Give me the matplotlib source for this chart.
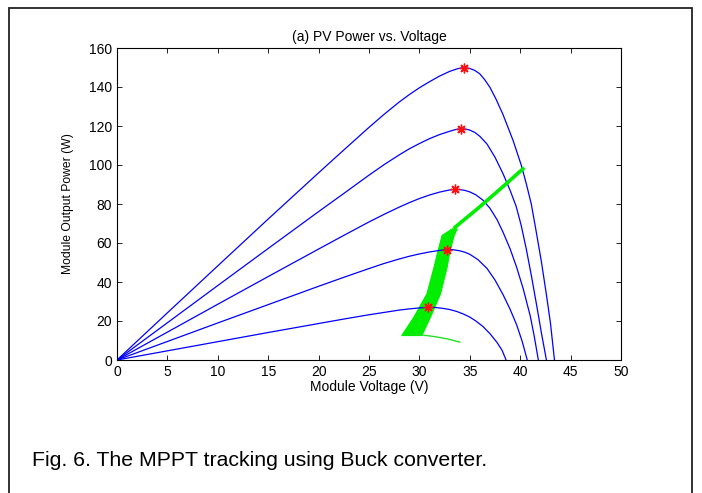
import matplotlib
matplotlib.use("Agg")
import matplotlib.pyplot as plt
from matplotlib.patches import Rectangle

# PV power curves (voltage V, power W)
c1_v = [0, 5, 10, 15, 20, 22.5, 25, 26.5, 28, 29, 30, 31, 32, 33, 33.8, 34.4,
        35.0, 35.5, 36.0, 36.5, 37.0, 37.6, 38.3, 39.3, 40.1, 40.6, 41.1, 41.6, 42.1, 42.6, 43.0, 43.4]
c1_p = [0, 24.2, 48.3, 72.3, 96.0, 107.7, 119.3, 126.0, 132.3, 136.1, 139.6, 142.7, 145.6, 148.0, 149.4, 150.0,
        149.5, 148.5, 146.7, 143.6, 139.8, 133.8, 125.8, 112.5, 100.0, 90.5, 80.0, 65.5, 50.5, 33.5, 19.0, 0]

c2_v = [0, 5, 10, 15, 20, 22.5, 25, 26.5, 28, 29, 30, 31, 32, 33, 33.6, 34.1,
        34.6, 35.0, 35.5, 36.0, 36.7, 37.5, 38.3, 39.0, 39.6, 40.1, 40.6, 41.1, 41.6, 42.1, 42.6]
c2_p = [0, 19.1, 38.2, 57.2, 76.1, 85.4, 94.8, 100.2, 105.2, 108.3, 111.0, 113.5, 115.6, 117.3, 118.2, 118.6,
        118.4, 117.9, 116.7, 114.7, 110.8, 104.0, 95.5, 87.0, 78.8, 69.0, 57.0, 43.5, 29.0, 14.0, 0]

c3_v = [0, 5, 10, 15, 20, 22.5, 25, 26.5, 28, 29, 30, 31, 32, 33, 33.5,
        34.0, 34.5, 35.0, 35.6, 36.3, 37.0, 37.7, 38.3, 39.0, 39.65, 40.3, 41.0, 41.4, 41.8]
c3_p = [0, 14.3, 28.6, 42.8, 56.9, 63.9, 70.8, 74.7, 78.4, 80.7, 82.8, 84.6, 86.1, 87.2, 87.5,
        87.4, 87.0, 86.2, 84.7, 82.0, 77.8, 72.0, 65.5, 57.0, 47.5, 36.5, 22.5, 12.0, 0]

c4_v = [0, 5, 10, 15, 20, 22.5, 25, 26.5, 28, 29, 30, 31, 32, 32.7,
        33.3, 34.0, 34.5, 35.0, 35.8, 36.7, 37.5, 38.3, 39.0, 39.65, 40.2, 40.7]
c4_p = [0, 9.5, 19.0, 28.4, 37.8, 42.4, 46.9, 49.5, 51.8, 53.2, 54.4, 55.4, 56.2, 56.6,
        56.6, 56.0, 55.3, 54.2, 51.5, 47.0, 41.0, 33.5, 26.0, 18.0, 9.5, 0]

c5_v = [0, 5, 10, 15, 20, 22.5, 25, 26.5, 28, 29, 30, 30.9,
        31.6, 32.3, 33.0, 33.7, 34.4, 35.0, 35.6, 36.3, 37.0, 37.7, 38.2, 38.6]
c5_p = [0, 4.7, 9.4, 14.1, 18.7, 21.0, 23.2, 24.4, 25.6, 26.2, 26.7, 27.0,
        26.9, 26.5, 25.9, 24.9, 23.5, 22.0, 20.0, 17.2, 13.5, 9.0, 5.0, 0]

curves = [(c1_v, c1_p), (c2_v, c2_p), (c3_v, c3_p), (c4_v, c4_p), (c5_v, c5_p)]

# maximum power points (red stars)
mpp_v = [34.4, 34.1, 33.5, 32.7, 30.9]
mpp_p = [150.0, 118.6, 87.5, 56.6, 27.0]

# MPPT trajectory: oscillation band, tracking line and the low tail
band_p = [12.8, 22.2, 34.2, 47.8, 56.3, 64.1, 67.5]
band_left = [28.2, 29.4, 30.7, 31.4, 31.8, 32.2, 33.2]
band_right = [30.2, 31.05, 32.05, 32.7, 33.0, 33.4, 33.7]

track_v = [33.4, 36.0, 38.2, 40.4]
track_p = [67.5, 78.6, 88.5, 98.6]

tail_v = [29.0, 30.2, 31.5, 32.8, 34.0]
tail_p = [13.4, 12.9, 12.0, 10.8, 9.2]

fig = plt.figure(figsize=(7.02, 4.93), dpi=100)
ax = fig.add_axes([117 / 702, 1 - 360 / 493, 504 / 702, 312 / 493])

for v, p in curves:
    ax.plot(v, p, color="#0000ff", lw=0.9)

ax.fill_betweenx(band_p, band_left, band_right, color="#00ee00", lw=0.8)
ax.plot(track_v, track_p, color="#00ee00", lw=2.6, solid_capstyle="butt")
ax.plot(tail_v, tail_p, color="#22e022", lw=1.0)

ax.plot(mpp_v, mpp_p, ls="none", marker=(8, 2, 0), ms=7, mec="#ff1010", mew=1.0)

ax.set_xlim(0, 50)
ax.set_ylim(0, 160)
ax.set_xticks(range(0, 51, 5))
ax.set_yticks(range(0, 161, 20))
ax.tick_params(direction="in", length=3.5, width=0.6, top=True, right=True,
               labelsize=10, pad=3.5)
for s in ax.spines.values():
    s.set_linewidth(0.8)
for lab in ax.get_xticklabels() + ax.get_yticklabels():
    lab.set_family("Liberation Sans")

ax.set_title("(a) PV Power vs. Voltage", family="Liberation Sans", fontsize=10,
             y=1.035, pad=0, va="center")
ax.set_xlabel("Module Voltage (V)", family="Liberation Sans", fontsize=10, va="center")
ax.xaxis.set_label_coords(0.5, -0.086)
ax.set_ylabel("Module Output Power (W)", family="Liberation Sans", fontsize=8.7, va="center")
ax.yaxis.set_label_coords(-0.097, 0.5)

fig.text(32 / 702, 1 - 466 / 493, "Fig. 6. The MPPT tracking using Buck converter.",
         family="Liberation Sans", fontsize=15.3, va="baseline")

# page frame around the figure
fig.patches.append(Rectangle((9 / 702, -0.1), 683 / 702, 1.1 - 8 / 493,
                             transform=fig.transFigure, fill=False, ec="#222222", lw=1.3))

fig.savefig("out.png", dpi=100)
